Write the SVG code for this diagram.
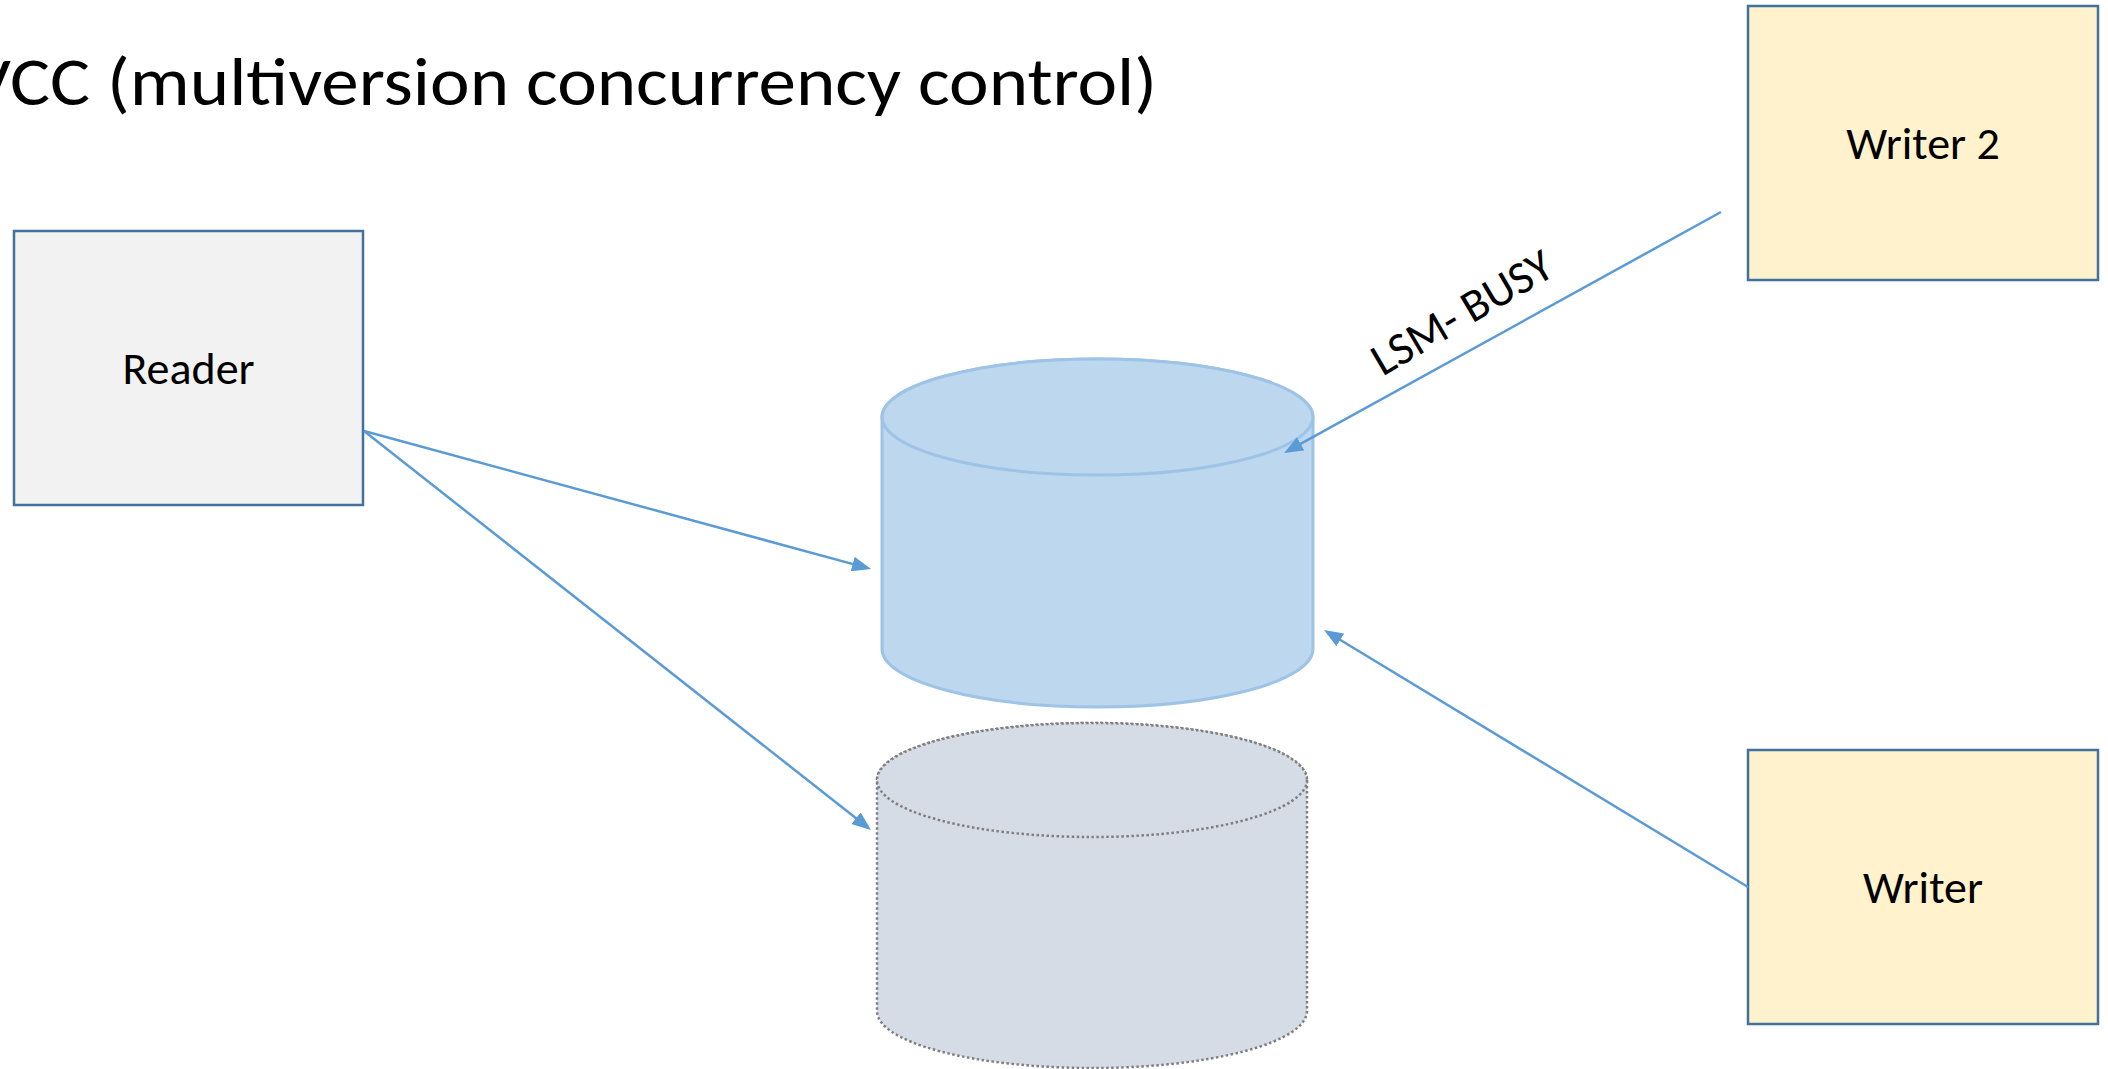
<svg xmlns="http://www.w3.org/2000/svg" width="2108" height="1069" viewBox="0 0 2108 1069">
  <style>
    .label { font-family: Carlito, Lato, "Liberation Sans", sans-serif; font-size: 46px; fill: #000000; }
    .title { font-family: Carlito, Lato, "Liberation Sans", sans-serif; font-size: 67px; fill: #000000; }
    .box { stroke: #41719C; stroke-width: 2.5; }
    .reader { fill: #F2F2F2; }
    .writer { fill: #FFF2CC; }
    .db-live { fill: #BDD7EE; stroke: #9DC3E6; stroke-width: 3; }
    .db-old { fill: #D6DCE5; stroke: #7F7F7F; stroke-width: 2.5; stroke-dasharray: 2.5 2.5; }
    .conn { fill: none; stroke: #5B9BD5; stroke-width: 2.5; marker-end: url(#arrow); }
  </style>
  <defs>
    <marker id="arrow" markerUnits="userSpaceOnUse" markerWidth="19" markerHeight="15" refX="9" refY="7.5" orient="auto">
      <path d="M0,0 L19,7.5 L0,15 z" fill="#5B9BD5"/>
    </marker>
  </defs>

  <rect width="2108" height="1069" fill="#FFFFFF"/>

  <!-- heading; the first letters run off the left edge -->
  <text id="title" class="title" x="-96" y="105" textLength="1253" lengthAdjust="spacingAndGlyphs">MVCC (multiversion concurrency control)</text>

  <g id="reader">
    <rect class="box reader" x="14" y="231" width="349" height="274"/>
    <text class="label" x="188.5" y="384" text-anchor="middle">Reader</text>
  </g>

  <g id="writer2">
    <rect class="box writer" x="1748" y="6" width="350" height="274"/>
    <text class="label" x="1923" y="159" text-anchor="middle">Writer 2</text>
  </g>

  <g id="writer">
    <rect class="box writer" x="1748" y="750" width="350" height="274"/>
    <text class="label" x="1923" y="903" text-anchor="middle">Writer</text>
  </g>

  <!-- current version store -->
  <g id="db-current">
    <path class="db-live" d="M882,417 A215.5,58 0 0 1 1313,417 L1313,649 A215.5,58 0 0 1 882,649 Z"/>
    <ellipse class="db-live" cx="1097.5" cy="417" rx="215.5" ry="58"/>
  </g>

  <!-- previous version store -->
  <g id="db-previous">
    <path class="db-old" d="M877,780 A215,57 0 0 1 1307,780 L1307,1011 A215,57 0 0 1 877,1011 Z"/>
    <ellipse class="db-old" cx="1092" cy="780" rx="215" ry="57"/>
  </g>

  <g id="connectors">
    <line class="conn" x1="364" y1="431" x2="861.4" y2="566.4"/>
    <line class="conn" x1="364" y1="431" x2="863.1" y2="823.8"/>
    <line class="conn" x1="1748" y1="887" x2="1332.6" y2="635.2"/>
    <line class="conn" x1="1721" y1="212" x2="1292.8" y2="448.2"/>
    <text class="label" x="1469.5" y="325.5" text-anchor="middle" transform="rotate(-30.5 1469.5 325.5)">LSM- BUSY</text>
  </g>
</svg>
